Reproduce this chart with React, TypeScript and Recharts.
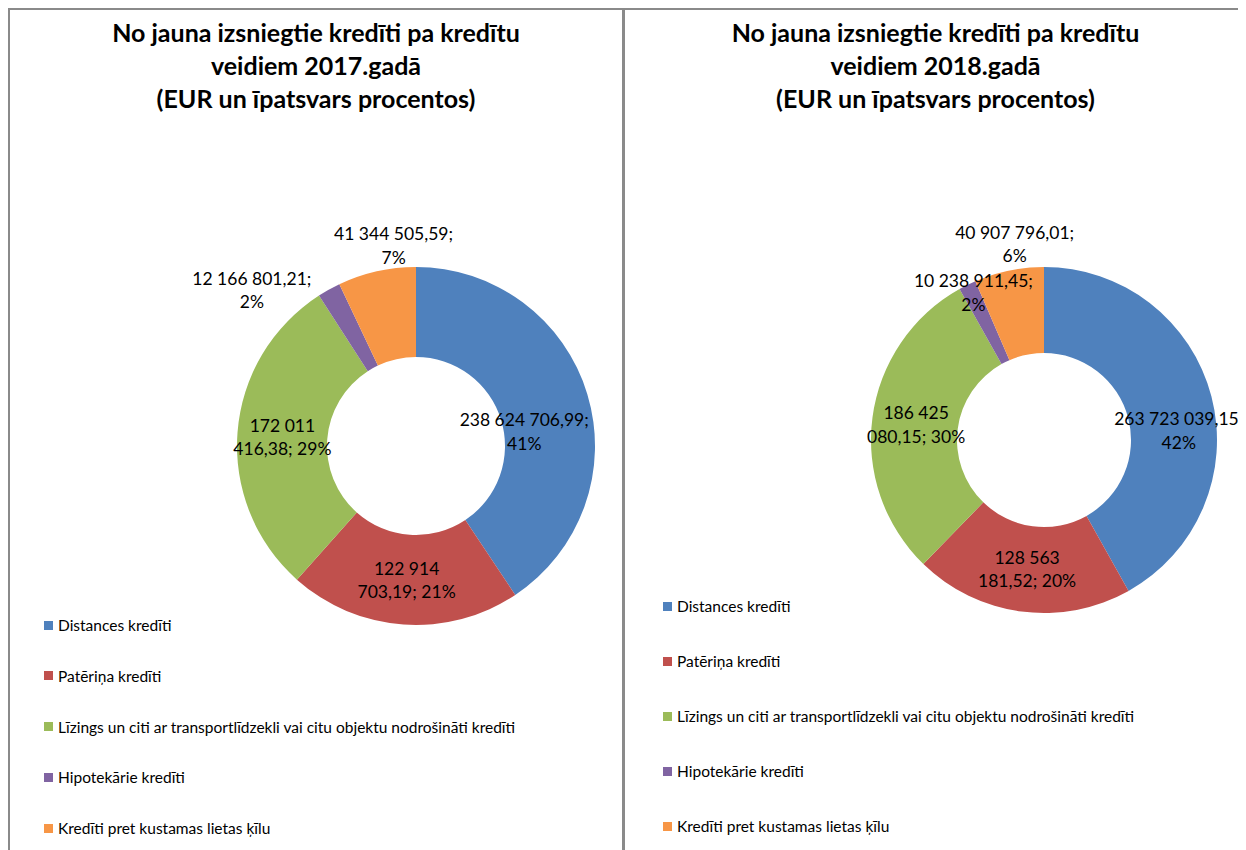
import React from 'react';
import { PieChart, Pie, Cell } from 'recharts';

const categories = [
  'Distances kredīti',
  'Patēriņa kredīti',
  'Līzings un citi ar transportlīdzekli vai citu objektu nodrošināti kredīti',
  'Hipotekārie kredīti',
  'Kredīti pret kustamas lietas ķīlu',
];
const values2017 = [238624706.99, 122914703.19, 172011416.38, 12166801.21, 41344505.59];
const values2018 = [263723039.15, 128563181.52, 186425080.15, 10238911.45, 40907796.01];
const titles2017 = ['No jauna izsniegtie kredīti pa kredītu', 'veidiem 2017.gadā', '(EUR un īpatsvars procentos)'];
const titles2018 = ['No jauna izsniegtie kredīti pa kredītu', 'veidiem 2018.gadā', '(EUR un īpatsvars procentos)'];

const COLORS = ['#4F81BD', '#C0504D', '#9BBB59', '#8064A2', '#F79646'];
const BORDER = '#8a8a8a';
const FONT = 'Lato, "Noto Sans", sans-serif';
const RAD = Math.PI / 180;

// number of words on the first line of each data label
const LABEL_WRAP = [3, 2, 2, 3, 3];

function fmt(v: number): string {
  const [i, d] = v.toFixed(2).split('.');
  const g = i.replace(/\B(?=(\d{3})+(?!\d))/g, ' ');
  return `${g},${d}`;
}

type PanelCfg = {
  values: number[];
  titles: string[];
  cx: number;
  cy: number;
  inner: number;
  outer: number;
  nudges: [number, number][];
  legendTop: number;
  legendStep: number;
  legendLeft: number;
  width: number;
};

function makeLabel(cfg: PanelCfg) {
  return (props: any) => {
    const { cx, cy, midAngle, innerRadius, outerRadius, percent, value, index } = props;
    const r = (innerRadius + outerRadius) / 2;
    const [dx, dy] = cfg.nudges[index] || [0, 0];
    const x = cx + r * Math.cos(-midAngle * RAD) + dx;
    const y = cy + r * Math.sin(-midAngle * RAD) + dy;
    const words = `${fmt(value)}; ${Math.round(percent * 100)}%`.split(' ');
    const n = LABEL_WRAP[index];
    const l1 = words.slice(0, n).join(' ');
    const l2 = words.slice(n).join(' ');
    return (
      <text
        x={x}
        y={y}
        textAnchor="middle"
        fill="#000"
        fontFamily={FONT}
        fontSize={17.5}
        key={`lbl-${index}`}
      >
        <tspan x={x} y={y - 11.5} dominantBaseline="central">{l1}</tspan>
        <tspan x={x} y={y + 12} dominantBaseline="central">{l2}</tspan>
      </text>
    );
  };
}

function Panel({ cfg }: { cfg: PanelCfg }) {
  const data = categories.map((name, i) => ({ name, value: cfg.values[i] }));
  return (
    <div style={{ position: 'relative', width: cfg.width, height: 840 }}>
      <div
        style={{
          position: 'absolute',
          left: 0,
          top: 6,
          width: cfg.width,
          textAlign: 'center',
          fontFamily: FONT,
          fontWeight: 700,
          fontSize: 25,
          lineHeight: '33px',
          color: '#000',
        }}
      >
        {cfg.titles.map((t, i) => (
          <div key={i}>{t}</div>
        ))}
      </div>
      <div style={{ position: 'absolute', left: 0, top: 0 }}>
        <PieChart
          width={cfg.width}
          height={840}
          margin={{ top: 0, right: 0, bottom: 0, left: 0 }}
          style={{ overflow: 'visible' }}
        >
          <Pie
            data={data}
            dataKey="value"
            nameKey="name"
            cx={cfg.cx}
            cy={cfg.cy}
            innerRadius={cfg.inner}
            outerRadius={cfg.outer}
            startAngle={90}
            endAngle={-270}
            stroke="none"
            isAnimationActive={false}
            labelLine={false}
            label={makeLabel(cfg)}
          >
            {data.map((_, i) => (
              <Cell key={i} fill={COLORS[i]} />
            ))}
          </Pie>
        </PieChart>
      </div>
      {categories.map((c, i) => (
        <div
          key={c}
          style={{
            position: 'absolute',
            left: cfg.legendLeft,
            top: cfg.legendTop + i * cfg.legendStep - 10,
            height: 20,
            display: 'flex',
            alignItems: 'center',
            fontFamily: FONT,
            fontSize: 15.5,
            color: '#000',
            whiteSpace: 'nowrap',
          }}
        >
          <span style={{ display: 'inline-block', width: 9, height: 9, background: COLORS[i], marginRight: 5 }} />
          <span>{c}</span>
        </div>
      ))}
    </div>
  );
}

const left: PanelCfg = {
  values: values2017,
  titles: titles2017,
  cx: 406,
  cy: 436,
  inner: 89,
  outer: 179,
  nudges: [[-20, 24], [0, 0], [0, 1], [-99, -39], [7, -70]],
  legendTop: 615,
  legendStep: 50.8,
  legendLeft: 34,
  width: 612,
};

const right: PanelCfg = {
  values: values2018,
  titles: titles2018,
  cx: 419,
  cy: 430,
  inner: 87,
  outer: 173,
  nudges: [[9, 23], [0, 0], [1, 1], [-13, -31], [-3, -69]],
  legendTop: 596,
  legendStep: 55,
  legendLeft: 38,
  width: 621,
};

export default function App() {
  return (
    <div style={{ display: 'flex', width: 1238, height: 842, background: '#fff' }}>
      <style>{`html, body { overflow: hidden; }`}</style>
      <div
        style={{
          boxSizing: 'border-box',
          width: 617,
          height: 842,
          borderTop: `2px solid ${BORDER}`,
          borderLeft: `2px solid ${BORDER}`,
          borderRight: `3px solid ${BORDER}`,
        }}
      >
        <Panel cfg={left} />
      </div>
      <div
        style={{
          boxSizing: 'border-box',
          width: 621,
          height: 842,
          borderTop: `2px solid ${BORDER}`,
        }}
      >
        <Panel cfg={right} />
      </div>
    </div>
  );
}
